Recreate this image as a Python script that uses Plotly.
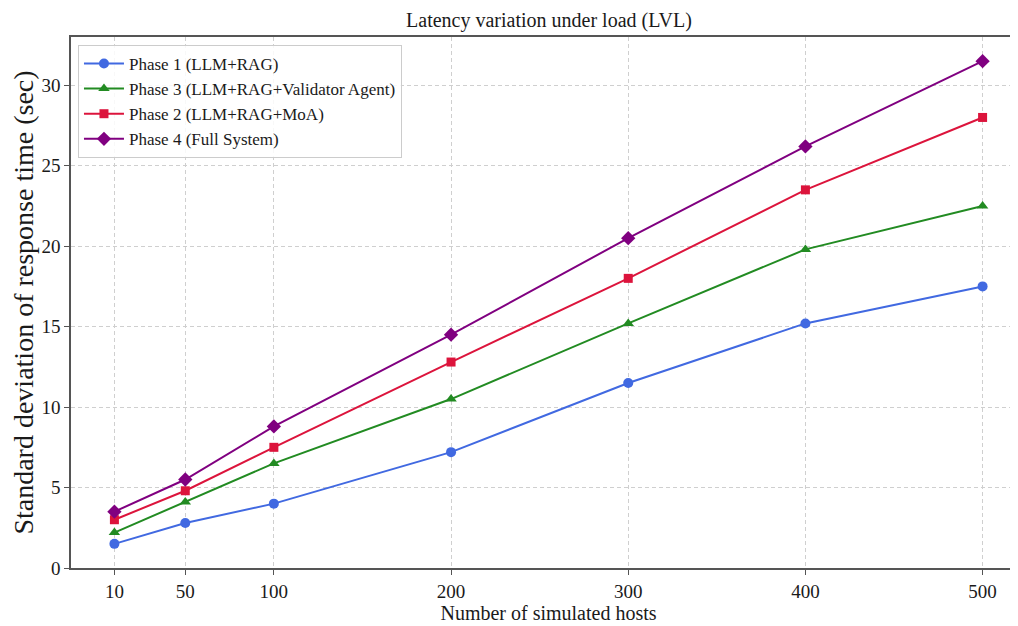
import plotly.graph_objects as go

hosts = [10, 50, 100, 200, 300, 400, 500]
phase1 = [1.5, 2.8, 4.0, 7.2, 11.5, 15.2, 17.5]
phase3 = [2.2, 4.1, 6.5, 10.5, 15.2, 19.8, 22.5]
phase2 = [3.0, 4.8, 7.5, 12.8, 18.0, 23.5, 28.0]
phase4 = [3.5, 5.5, 8.8, 14.5, 20.5, 26.2, 31.5]
y_ticks = [0, 5, 10, 15, 20, 25, 30]

series = [
    ("Phase 1 (LLM+RAG)", phase1, "#4169E1", "circle", 10),
    ("Phase 3 (LLM+RAG+Validator Agent)", phase3, "#228B22", "triangle-up", 10),
    ("Phase 2 (LLM+RAG+MoA)", phase2, "#DC143C", "square", 9),
    ("Phase 4 (Full System)", phase4, "#800080", "diamond", 11),
]

FONT = "Liberation Serif, Times New Roman, serif"
TXT = "#1a1a1a"

fig = go.Figure()
for name, vals, color, sym, size in series:
    fig.add_trace(go.Scatter(
        x=hosts, y=vals, name=name, mode="lines+markers",
        line=dict(color=color, width=2),
        marker=dict(symbol=sym, size=size, color=color),
    ))

axis_common = dict(
    showline=True, linecolor="#555555", linewidth=1.5,
    ticks="outside", ticklen=5, tickcolor="#555555", tickwidth=1.2,
    showgrid=True, gridcolor="#cfcfcf", griddash="4px,3px", gridwidth=1,
    zeroline=False,
    tickfont=dict(family=FONT, size=19, color=TXT),
)

# the page body adds an 8px offset, margins compensate for it
fig.update_layout(
    width=1018, height=626,
    margin=dict(l=63, r=0, t=29, b=66),
    paper_bgcolor="white", plot_bgcolor="white",
    font=dict(family=FONT, color=TXT),
    title=dict(text="Latency variation under load (LVL)", xref="container",
               x=541 / 1018, xanchor="center", y=1 - 12 / 626, yanchor="middle",
               font=dict(family=FONT, size=20, color=TXT)),
    legend=dict(x=0.0073, y=0.985, xanchor="left", yanchor="top",
                bgcolor="rgba(255,255,255,0.85)", bordercolor="#cccccc", borderwidth=1,
                font=dict(family=FONT, size=17, color=TXT),
                tracegroupgap=0, itemwidth=40),
    showlegend=True,
)

fig.update_xaxes(
    **axis_common, mirror=True, range=[-14.5, 524.5],
    tickmode="array", tickvals=hosts, ticktext=[str(h) for h in hosts],
    title=dict(text="Number of simulated hosts", font=dict(family=FONT, size=20, color=TXT), standoff=4),
)
fig.update_yaxes(
    **axis_common, mirror=False, range=[0, 33],
    tickmode="array", tickvals=y_ticks,
    title=dict(text="Standard deviation of response time (sec)", font=dict(family=FONT, size=28, color=TXT), standoff=3),
)

fig.write_html("out.html")
